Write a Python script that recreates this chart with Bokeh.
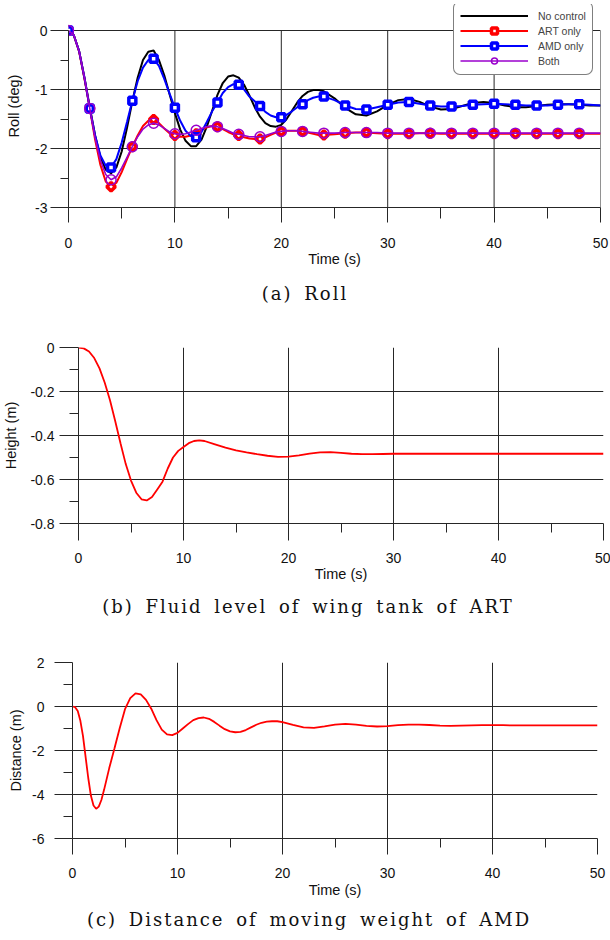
from bokeh.plotting import figure
from bokeh.layouts import column
from bokeh.models import FixedTicker, Legend, LegendItem, Div
from bokeh.embed import file_html
from bokeh.resources import INLINE
import numpy as np

# ---------------- data ----------------
TIME_ROLL = [0, 0.5, 1, 1.5, 2, 2.5, 3, 3.5, 4, 4.5,
             5, 5.5, 6, 6.5, 7, 7.5, 8, 8.5, 9, 9.5,
             10, 10.5, 11, 11.5, 12, 12.5, 13, 13.5, 14, 14.5,
             15, 15.5, 16, 16.5, 17, 17.5, 18, 18.5, 19, 19.5,
             20, 20.5, 21, 21.5, 22, 22.5, 23, 23.5, 24,
             25, 26, 27, 28, 29, 30, 31, 32, 33, 34,
             35, 36, 37, 38, 39, 40, 41, 42, 43, 44,
             45, 46, 47, 48, 49, 50]

ROLL_NO_CONTROL = [0, -0.08, -0.35, -0.8, -1.3, -1.78, -2.15, -2.36, -2.42, -2.32,
                   -2.05, -1.65, -1.2, -0.8, -0.5, -0.36, -0.34, -0.5, -0.76, -1.08,
                   -1.4, -1.68, -1.87, -1.96, -1.96, -1.85, -1.63, -1.36, -1.09, -0.89,
                   -0.78, -0.76, -0.8, -0.92, -1.1, -1.3, -1.46, -1.57, -1.62, -1.63,
                   -1.6, -1.5, -1.36, -1.22, -1.11, -1.04, -1.01, -1.01, -1.03,
                   -1.15, -1.31, -1.42, -1.44, -1.37, -1.26, -1.18, -1.16, -1.21, -1.29,
                   -1.34, -1.33, -1.28, -1.23, -1.21, -1.23, -1.27, -1.3, -1.3, -1.28,
                   -1.26, -1.25, -1.25, -1.26, -1.27, -1.27]

ROLL_ART_ONLY = [0, -0.08, -0.36, -0.82, -1.32, -1.85, -2.28, -2.56, -2.65, -2.58,
                 -2.4, -2.18, -1.97, -1.78, -1.62, -1.53, -1.51, -1.57, -1.66, -1.74,
                 -1.78, -1.8, -1.8, -1.78, -1.75, -1.69, -1.64, -1.62, -1.63, -1.67,
                 -1.72, -1.76, -1.78, -1.81, -1.83, -1.84, -1.84, -1.81, -1.77, -1.73,
                 -1.71, -1.7, -1.7, -1.7, -1.71, -1.73, -1.75, -1.77, -1.77,
                 -1.76, -1.74, -1.73, -1.73, -1.74, -1.75, -1.75, -1.75, -1.74, -1.74,
                 -1.75, -1.75, -1.75, -1.75, -1.75, -1.75, -1.75, -1.75, -1.75, -1.75,
                 -1.75, -1.75, -1.75, -1.75, -1.75, -1.75]

ROLL_AMD_ONLY = [0, -0.08, -0.35, -0.8, -1.32, -1.78, -2.12, -2.29, -2.32, -2.18,
                 -1.9, -1.55, -1.19, -0.86, -0.63, -0.5, -0.48, -0.6, -0.82, -1.07,
                 -1.31, -1.53, -1.7, -1.79, -1.81, -1.72, -1.55, -1.37, -1.22, -1.06,
                 -0.96, -0.91, -0.92, -1.0, -1.12, -1.2, -1.28, -1.38, -1.44, -1.47,
                 -1.47, -1.43, -1.37, -1.3, -1.25, -1.18, -1.14, -1.12, -1.12,
                 -1.18, -1.27, -1.33, -1.34, -1.3, -1.26, -1.22, -1.21, -1.24, -1.27,
                 -1.29, -1.29, -1.28, -1.26, -1.25, -1.24, -1.25, -1.26, -1.27, -1.27,
                 -1.27, -1.26, -1.25, -1.25, -1.26, -1.27]

ROLL_BOTH = [0, -0.08, -0.35, -0.8, -1.32, -1.82, -2.2, -2.44, -2.53, -2.48,
             -2.33, -2.15, -1.97, -1.8, -1.67, -1.6, -1.57, -1.6, -1.66, -1.72,
             -1.75, -1.76, -1.75, -1.72, -1.69, -1.66, -1.63, -1.62, -1.63, -1.66,
             -1.7, -1.74, -1.76, -1.78, -1.8, -1.8, -1.8, -1.78, -1.75, -1.72,
             -1.71, -1.7, -1.7, -1.7, -1.71, -1.72, -1.73, -1.74, -1.74,
             -1.74, -1.73, -1.73, -1.73, -1.73, -1.74, -1.74, -1.74, -1.74, -1.74,
             -1.74, -1.74, -1.74, -1.74, -1.74, -1.74, -1.74, -1.74, -1.74, -1.74,
             -1.74, -1.74, -1.74, -1.74, -1.74, -1.74]

MARKER_TIMES = [0, 2, 4, 6, 8, 10, 12, 14, 16, 18, 20, 22, 24,
                26, 28, 30, 32, 34, 36, 38, 40, 42, 44, 46, 48]

TIME_HEIGHT = [0, 0.5, 1, 1.5, 2, 2.5, 3, 3.5, 4, 4.5,
               5, 5.5, 6, 6.5, 7, 7.5, 8, 8.5, 9, 9.5,
               10, 10.5, 11, 11.5, 12,
               13, 14, 15, 16, 17, 18, 19, 20, 21, 22,
               23, 24, 25, 26, 27, 28, 29, 30,
               31, 32, 33, 34, 35, 36, 37, 38, 39, 40,
               41, 42, 43, 44, 45, 46, 47, 48, 49, 50]
HEIGHT = [0, -0.004, -0.018, -0.048, -0.095, -0.16, -0.24, -0.335, -0.435, -0.53,
          -0.605, -0.66, -0.69, -0.695, -0.68, -0.645, -0.61, -0.55, -0.5, -0.47,
          -0.452, -0.435, -0.425, -0.422, -0.425,
          -0.44, -0.455, -0.468, -0.477, -0.485, -0.492, -0.497, -0.496, -0.49, -0.482,
          -0.477, -0.476, -0.479, -0.483, -0.485, -0.485, -0.484, -0.483,
          -0.483, -0.483, -0.483, -0.483, -0.483, -0.483, -0.483, -0.483, -0.483, -0.483,
          -0.483, -0.483, -0.483, -0.483, -0.483, -0.483, -0.483, -0.483, -0.483, -0.483]

TIME_DIST = [0, 0.25, 0.5, 0.75, 1, 1.25, 1.5, 1.75, 2, 2.25, 2.5, 2.75, 3, 3.25, 3.5,
             4, 4.5, 5, 5.5, 6, 6.5, 7, 7.5, 8, 8.5,
             9, 9.5, 10, 10.5, 11, 11.5, 12, 12.5, 13, 13.5,
             14, 14.5, 15, 15.5, 16, 16.5, 17, 17.5, 18, 18.5,
             19, 19.5, 20,
             21, 22, 23, 24, 25, 26, 27, 28, 29, 30,
             31, 32, 33, 34, 35, 36, 37, 38, 39, 40,
             41, 42, 43, 44, 45, 46, 47, 48, 49, 50]
DISTANCE = [0, -0.03, -0.2, -0.65, -1.35, -2.3, -3.25, -4.05, -4.5, -4.65, -4.55, -4.25, -3.8, -3.3, -2.8,
            -1.9, -0.98, -0.12, 0.38, 0.6, 0.55, 0.3, -0.1, -0.62, -1.05,
            -1.27, -1.3, -1.2, -1.0, -0.8, -0.62, -0.53, -0.5, -0.56, -0.7,
            -0.87, -1.03, -1.13, -1.17, -1.15, -1.07, -0.95, -0.83, -0.74, -0.69,
            -0.67, -0.67, -0.71,
            -0.84, -0.95, -0.97, -0.9, -0.82, -0.79, -0.82, -0.88, -0.91, -0.89,
            -0.85, -0.82, -0.82, -0.84, -0.87, -0.88, -0.87, -0.86, -0.85, -0.85,
            -0.85, -0.86, -0.86, -0.86, -0.86, -0.86, -0.86, -0.86, -0.86, -0.86]

X_TICKS = [0, 10, 20, 30, 40, 50]
X_MINOR = [5, 15, 25, 35, 45]
ROLL_TICKS = [0, -1, -2, -3]
ROLL_MINOR = [-0.5, -1.5, -2.5]
HEIGHT_TICKS = [0, -0.2, -0.4, -0.6, -0.8]
HEIGHT_MINOR = [-0.1, -0.3, -0.5, -0.7]
DIST_TICKS = [2, 0, -2, -4, -6]
DIST_MINOR = [1, -1, -3, -5]

# ---------------- styling ----------------
SANS = "Liberation Sans"
SERIF = "DejaVu Serif"
GRID = "#262626"
RED = "#ff0000"
BLUE = "#0000ff"
PURPLE = "#9a00cc"


def make_fig(height, left, right, top, frame_h, yr):
    p = figure(width=610, height=height, x_range=(0, 50), y_range=yr,
               output_backend="svg", toolbar_location=None,
               min_border_left=left, min_border_right=right,
               min_border_top=top, min_border_bottom=height - top - frame_h)
    p.outline_line_color = None
    p.frame_align = False
    return p


def style_axes(p, yticks, yminor, xlab, ylab, xcfg, ycfg):
    xa = p.xaxis[0]
    ya = p.yaxis[0]
    xa.ticker = FixedTicker(ticks=X_TICKS, minor_ticks=X_MINOR)
    ya.ticker = FixedTicker(ticks=yticks, minor_ticks=yminor)
    ya.major_label_overrides = {t: ("%g" % t) for t in yticks}
    p.xgrid.ticker = FixedTicker(ticks=X_TICKS)
    p.ygrid.ticker = FixedTicker(ticks=yticks)
    for g in (p.xgrid[0], p.ygrid[0]):
        g.grid_line_color = GRID
        g.grid_line_width = 1
        g.grid_line_alpha = 1
    for ax, cfg, lab in ((xa, xcfg, xlab), (ya, ycfg, ylab)):
        mo, mi, ls, als, tfs, afs = cfg
        ax.axis_label = lab
        ax.axis_line_color = GRID
        ax.major_tick_line_color = GRID
        ax.minor_tick_line_color = GRID
        ax.major_tick_in = 0
        ax.minor_tick_in = 0
        ax.major_tick_out = mo
        ax.minor_tick_out = mi
        ax.major_label_standoff = ls
        ax.axis_label_standoff = als
        ax.major_label_text_font = SANS
        ax.major_label_text_font_size = tfs
        ax.major_label_text_color = "#111111"
        ax.axis_label_text_font = SANS
        ax.axis_label_text_font_size = afs
        ax.axis_label_text_font_style = "normal"
        ax.axis_label_text_color = "#111111"


def caption(text, height, indent):
    return Div(text=text, width=610, height=height, margin=0,
               styles={"font-family": SERIF, "font-size": "18px", "color": "#111111",
                       "text-align": "center", "line-height": "%dpx" % height,
                       "letter-spacing": "2px", "word-spacing": "4px",
                       "text-indent": "%dpx" % indent, "white-space": "nowrap"})


# ---------------- (a) Roll ----------------
# frame extends 26 px above y=0 so that the legend can overlap the top edge
ROLL_TOP = 26 / 59.0
p1 = make_fig(275, 68, 10, 4, 203, (-3, ROLL_TOP))
style_axes(p1, ROLL_TICKS, ROLL_MINOR, "Time (s)", "Roll (deg)",
           (15, 11, 15, 0, "14px", "14.5px"), (18, 8, 3, 10, "14px", "14.5px"))
p1.xgrid.visible = False
p1.yaxis[0].bounds = (-3, 0)
p1.segment(x0=X_TICKS, y0=[ROLL_TICKS[-1]] * len(X_TICKS), x1=X_TICKS,
           y1=[ROLL_TICKS[0]] * len(X_TICKS), line_color=GRID, line_width=1)

idx = [TIME_ROLL.index(t) for t in MARKER_TIMES]
mk_t = [TIME_ROLL[i] for i in idx]

r_nc = p1.line(TIME_ROLL, ROLL_NO_CONTROL, line_color="black", line_width=2)
r_art = p1.line(TIME_ROLL, ROLL_ART_ONLY, line_color=RED, line_width=2)
m_art = p1.scatter(mk_t, [ROLL_ART_ONLY[i] for i in idx], marker="square", angle=np.pi / 4,
                   size=6, line_color=RED, line_width=3.5, fill_color="white")
r_amd = p1.line(TIME_ROLL, ROLL_AMD_ONLY, line_color=BLUE, line_width=2)
m_amd = p1.scatter(mk_t, [ROLL_AMD_ONLY[i] for i in idx], marker="square",
                   size=7, line_color=BLUE, line_width=3.5, fill_color="white")
r_both = p1.line(TIME_ROLL, ROLL_BOTH, line_color=PURPLE, line_width=1.6)
m_both = p1.scatter(mk_t, [ROLL_BOTH[i] for i in idx], marker="circle",
                    size=10, line_color=PURPLE, line_width=1.5, fill_color=None)

legend_kw = dict(location=(385, 132), margin=0, padding=6, spacing=0,
                 glyph_width=68, glyph_height=15, label_height=15, label_standoff=10,
                 label_text_font=SANS, label_text_font_size="10.5px",
                 border_line_color="black", border_line_width=1,
                 background_fill_color="white", background_fill_alpha=1)
if "border_radius" in Legend.properties():
    legend_kw["border_radius"] = 7
legend = Legend(items=[LegendItem(label="No control", renderers=[r_nc]),
                       LegendItem(label="ART only", renderers=[r_art, m_art]),
                       LegendItem(label="AMD only", renderers=[r_amd, m_amd]),
                       LegendItem(label="Both", renderers=[r_both, m_both])],
                **legend_kw)
p1.add_layout(legend)
cap1 = caption("(a) Roll", 37, 0)

# ---------------- (b) Height ----------------
p2 = make_fig(275, 77, 7, 35, 176, (-0.8, 0))
style_axes(p2, HEIGHT_TICKS, HEIGHT_MINOR, "Time (s)", "Height (m)",
           (17, 9, 12, 0, "14px", "14.5px"), (19, 9, 5, 8, "14px", "14.5px"))
p2.line(TIME_HEIGHT, HEIGHT, line_color=RED, line_width=1.8)
cap2 = caption("(b) Fluid level of wing tank of ART", 40, 6)

# ---------------- (c) Distance ----------------
p3 = make_fig(273, 72, 13, 35, 176, (-6, 2))
style_axes(p3, DIST_TICKS, DIST_MINOR, "Time (s)", "Distance (m)",
           (16, 9, 13, 1, "14px", "14.5px"), (18, 9, 10, 5, "14px", "14.5px"))
p3.line(TIME_DIST, DISTANCE, line_color=RED, line_width=1.8)
cap3 = caption("(c) Distance of moving weight of AMD", 40, 8)

layout = column(p1, cap1, p2, cap2, p3, cap3)
open("out.html", "w").write(file_html(layout, INLINE))
